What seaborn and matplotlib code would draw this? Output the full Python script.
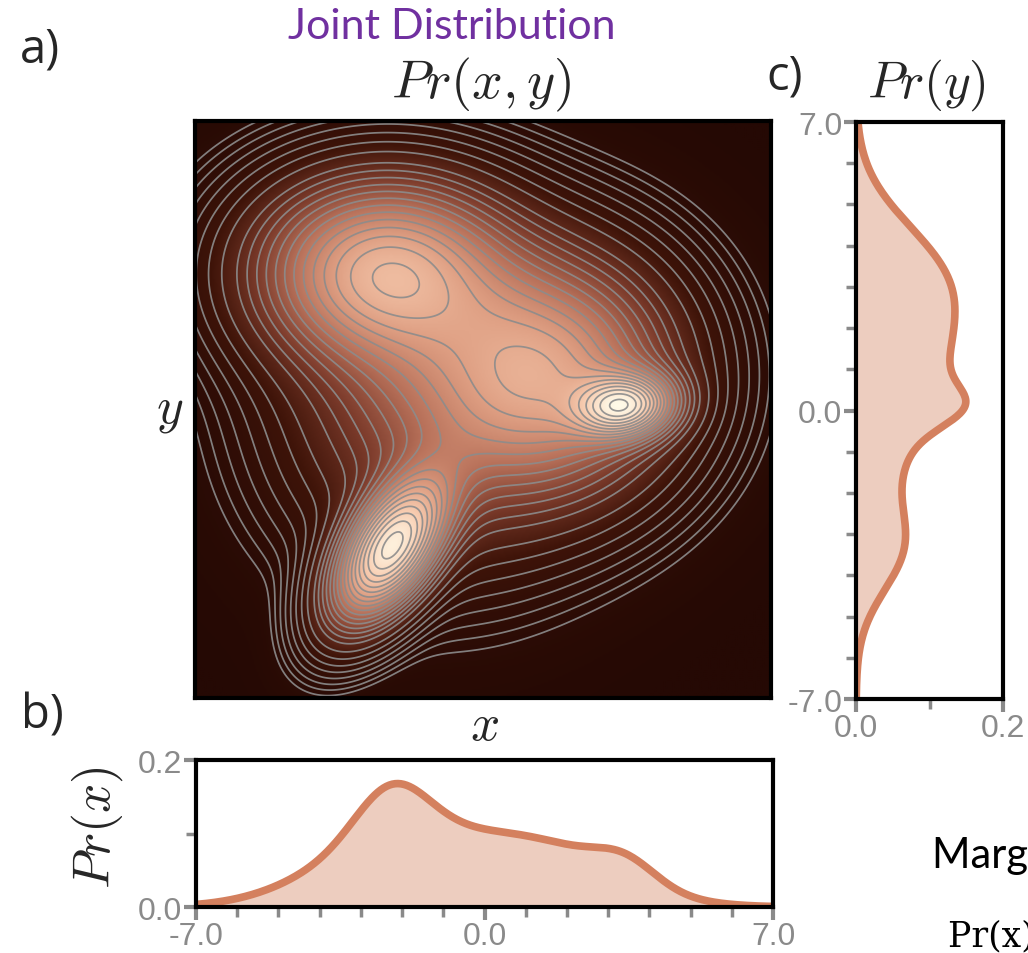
import numpy as np
import pandas as pd
import matplotlib
matplotlib.use('Agg')
import matplotlib.pyplot as plt
import seaborn as sns
from matplotlib.colors import LinearSegmentedColormap, PowerNorm

# Mixture-of-Gaussians description of the joint distribution
comp_names = ['upper-left', 'right', 'lower-left', 'bridge', 'right tail']
comp_weight = [0.294, 0.053, 0.143, 0.186, 0.304]
comp_mean_x = [-2.40, 3.43, -2.24, -1.08, 1.59]
comp_mean_y = [3.35, 0.09, -3.36, 0.15, 0.85]
comp_sd_x = [1.85, 0.74, 0.86, 2.09, 1.81]
comp_sd_y = [1.36, 0.48, 1.08, 2.16, 1.71]
comp_rho = [0.0, 0.1, 0.55, 0.0, 0.0]

axis_range = [-7.0, 7.0]
x_tick_labels = ['-7.0', '0.0', '7.0']
p_tick_labels = ['0.0', '0.2']

grid = np.linspace(axis_range[0], axis_range[1], 401)
GX, GY = np.meshgrid(grid, grid)
dens = np.zeros_like(GX)
for w, mx_, my_, sx_, sy_, r in zip(comp_weight, comp_mean_x, comp_mean_y, comp_sd_x, comp_sd_y, comp_rho):
    zx = (GX - mx_) / sx_
    zy = (GY - my_) / sy_
    q = (zx ** 2 - 2 * r * zx * zy + zy ** 2) / (1 - r ** 2)
    dens += w * np.exp(-0.5 * q) / (2 * np.pi * sx_ * sy_ * np.sqrt(1 - r ** 2))
marg_x = sum(w * np.exp(-0.5 * ((grid - a) / s) ** 2) / (np.sqrt(2 * np.pi) * s)
             for w, a, s in zip(comp_weight, comp_mean_x, comp_sd_x))
marg_y = sum(w * np.exp(-0.5 * ((grid - a) / s) ** 2) / (np.sqrt(2 * np.pi) * s)
             for w, a, s in zip(comp_weight, comp_mean_y, comp_sd_y))

sns.set_theme(style='white')
plt.rcParams['mathtext.fontset'] = 'cm'

fig = plt.figure(figsize=(10.28, 9.54), dpi=100)
ax = fig.add_axes([0.1897, 0.2673, 0.5603, 0.6048])
axb = fig.add_axes([0.1907, 0.0482, 0.5613, 0.1541])
axc = fig.add_axes([0.8327, 0.2662, 0.1430, 0.6048])

# joint density image + contours
cmap = LinearSegmentedColormap.from_list(
    'jd', ['#250904', '#3f1409', '#7c3b2b', '#b77059', '#de9e82', '#f8ccb0', '#fffae8'])
pmax = dens.max()
ax.imshow(dens, extent=[-7, 7, -7, 7], origin='lower', cmap=cmap,
          norm=PowerNorm(gamma=0.57, vmin=0, vmax=pmax), interpolation='bilinear', aspect='auto')
levels = np.unique(np.concatenate([pmax * np.geomspace(0.004, 0.06, 8),
                                   pmax * (np.linspace(np.sqrt(0.09), np.sqrt(0.97), 18)) ** 2]))
ax.contour(grid, grid, dens, levels=levels, colors='#8c8c8c', linewidths=1.25, alpha=0.9)
ax.set_xlim(-7, 7)
ax.set_ylim(-7, 7)
ax.set_xticks([])
ax.set_yticks([])
for s in ax.spines.values():
    s.set_color('black')
    s.set_linewidth(3)

# marginals
line_col = '#d4805e'
fill_col = '#edcdbf'
dfx = pd.DataFrame({'x': grid, 'p': marg_x})
axb.fill_between(grid, 0, marg_x, color=fill_col, lw=0)
sns.lineplot(data=dfx, x='x', y='p', ax=axb, color=line_col, lw=5.5)
axb.set_xlim(-7, 7)
axb.set_ylim(0, 0.2)
axb.set_xlabel('')
axb.set_ylabel('')

dfy = pd.DataFrame({'y': grid, 'p': marg_y})
axc.fill_betweenx(grid, 0, marg_y, color=fill_col, lw=0)
sns.lineplot(data=dfy, x='p', y='y', ax=axc, color=line_col, lw=5.5, orient='y', sort=False)
axc.set_xlim(0, 0.2)
axc.set_ylim(-7, 7)
axc.set_xlabel('')
axc.set_ylabel('')

tick_col = '#8a8a8a'
for a in (axb, axc):
    for s in a.spines.values():
        s.set_color('black')
        s.set_linewidth(3)
    a.tick_params(which='major', direction='out', length=9, width=3, color=tick_col,
                  labelcolor=tick_col, labelsize=23, pad=1)
    a.tick_params(which='minor', direction='out', length=7, width=2.5, color=tick_col)
axb.set_xticks([-7, 0, 7])
axb.set_xticklabels(x_tick_labels, family='Liberation Sans')
axb.set_xticks(np.arange(-7, 8, 1), minor=True)
axb.set_yticks([0, 0.2])
axb.set_yticklabels(p_tick_labels, family='Liberation Sans')
axb.set_yticks([0.1], minor=True)
axb.tick_params(axis='x', which='both', bottom=True, top=False)
axb.tick_params(axis='y', which='both', left=True, right=False)
axc.set_yticks([-7, 0, 7])
axc.set_yticklabels(x_tick_labels, family='Liberation Sans')
axc.set_yticks(np.arange(-7, 8, 1), minor=True)
axc.set_xticks([0, 0.2])
axc.set_xticklabels(p_tick_labels, family='Liberation Sans')
axc.set_xticks([0.1], minor=True)
axc.tick_params(axis='x', which='both', bottom=True, top=False)
axc.tick_params(axis='y', which='both', left=True, right=False)

W, H = 1028, 954
def fx_(px):
    return px / W
def fy_(py):
    return 1 - py / H

fig.text(fx_(452), fy_(39), 'Joint Distribution', color='#7030a0', fontsize=31, family='Lato',
         ha='center', va='baseline')
fig.text(fx_(481), fy_(85), r'$Pr(x,y)$', fontsize=39, ha='center', va='center')
fig.text(fx_(926), fy_(85), r'$Pr(y)$', fontsize=37, ha='center', va='center')
fig.text(fx_(170), fy_(410), r'$y$', fontsize=37, ha='center', va='center')
fig.text(fx_(484), fy_(726), r'$x$', fontsize=37, ha='center', va='center')
fig.text(fx_(97), fy_(828), r'$Pr(x)$', fontsize=37, ha='center', va='center', rotation=90)
fig.text(fx_(40), fy_(50), 'a)', fontsize=34, family='Open Sans', ha='center', va='center')
fig.text(fx_(42), fy_(716), 'b)', fontsize=34, family='Open Sans', ha='center', va='center')
fig.text(fx_(785), fy_(77), 'c)', fontsize=34, family='Open Sans', ha='center', va='center')
fig.text(fx_(932), fy_(868), 'Marginal Distributions', fontsize=30, family='Lato',
         ha='left', va='baseline', color='black')
fig.text(fx_(948), fy_(947), 'Pr(x), Pr(y)', fontsize=25, family='DejaVu Serif',
         ha='left', va='baseline', color='black')

fig.savefig('out.png', dpi=100)
